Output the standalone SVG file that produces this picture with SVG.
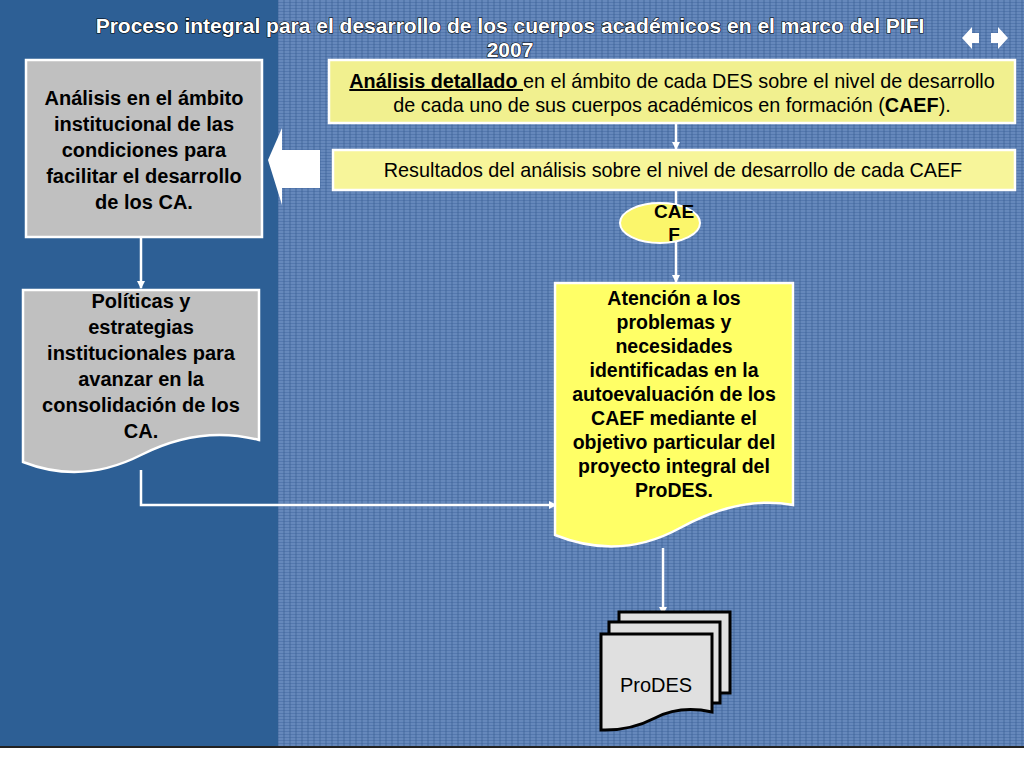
<svg xmlns="http://www.w3.org/2000/svg" width="1024" height="768" viewBox="0 0 1024 768">
<defs>
<pattern id="tex" width="6" height="6" patternUnits="userSpaceOnUse"><rect width="6" height="6" fill="#5478ae"/><path d="M0 1h6M0 4h6" stroke="#7fa0cf" stroke-width="0.8"/><path d="M2 0v6" stroke="#3a5d92" stroke-width="0.7"/></pattern>
<marker id="ah" markerWidth="8" markerHeight="8" refX="7" refY="4" orient="auto" markerUnits="userSpaceOnUse"><path d="M0 0L8 4L0 8z" fill="#fff"/></marker>
</defs>
<style>
.t{font-family:"Liberation Sans",Arial,sans-serif;fill:#000;text-anchor:middle}
.b{font-weight:bold}
.c{stroke:#fff;stroke-width:2.5;fill:none;marker-end:url(#ah)}
.title{font-family:"Liberation Sans",Arial,sans-serif;font-weight:bold;font-size:21px;fill:#fff;text-anchor:middle;stroke:#000;stroke-width:1.2;paint-order:stroke}
</style>
<rect width="1024" height="768" fill="#fff"/>
<rect x="0" y="0" width="1024" height="748" fill="url(#tex)"/>
<rect x="0" y="0" width="278" height="748" fill="#2d5f95"/>
<rect x="0" y="746" width="1024" height="2" fill="#222"/>
<text class="title" x="510" y="33">Proceso integral para el desarrollo de los cuerpos académicos en el marco del PIFI</text>
<text class="title" x="510" y="57">2007</text>
<g id="nav"><path d="M962 38l10-11v6h7v10h-7v6z" fill="#fff"/><path d="M1008 38l-10-11v6h-7v10h7v6z" fill="#fff"/></g>
<g id="bigarrow"><path d="M268 160L282 128V150H320V188H282V205Z" fill="#fff"/></g>
<g id="connectors">
<path class="c" d="M141 238V288"/>
<path class="c" d="M141 470V505H556"/>
<path class="c" d="M676 124V149"/>
<path class="c" d="M676 190V282"/>
<path class="c" d="M663 548V614"/>
</g>
<g id="n1"><rect x="26" y="60" width="236" height="177" fill="#c0c0c0" stroke="#fff" stroke-width="2.5"/>
<text class="t b" font-size="20"><tspan x="144" y="105">Análisis en el ámbito</tspan><tspan x="144" y="131">institucional de las</tspan><tspan x="144" y="157">condiciones para</tspan><tspan x="144" y="183">facilitar el desarrollo</tspan><tspan x="144" y="209">de los CA.</tspan></text></g>
<g id="n2"><path d="M23 290H259V440Q200 425 141 455T23 462Z" fill="#c0c0c0" stroke="#fff" stroke-width="2.5"/>
<text class="t b" font-size="20"><tspan x="141" y="308">Políticas y</tspan><tspan x="141" y="334">estrategias</tspan><tspan x="141" y="360">institucionales para</tspan><tspan x="141" y="386">avanzar en la</tspan><tspan x="141" y="412">consolidación de los</tspan><tspan x="141" y="438">CA.</tspan></text></g>
<g id="n3"><rect x="329" y="60" width="686" height="63" fill="#f1f08f" stroke="#fff" stroke-width="2.5"/>
<text class="t" font-size="19.8"><tspan x="672" y="88"><tspan class="b" text-decoration="underline">Análisis detallado </tspan>en el ámbito de cada DES sobre el nivel de desarrollo</tspan><tspan x="672" y="112">de cada uno de sus cuerpos académicos en formación (<tspan class="b">CAEF</tspan>).</tspan></text></g>
<g id="n4"><rect x="333" y="150" width="682" height="40" fill="#f7f59a" stroke="#fff" stroke-width="2.5"/>
<text class="t" font-size="19.8" x="673" y="177">Resultados del análisis sobre el nivel de desarrollo de cada CAEF</text></g>
<g id="n5"><ellipse cx="660" cy="223" rx="40" ry="20" fill="#fbf66b" stroke="#fff" stroke-width="2"/>
<text class="t b" font-size="19"><tspan x="674" y="218">CAE</tspan><tspan x="674" y="241">F</tspan></text></g>
<g id="n6"><path d="M555 283H793V505Q740 495 680 528T555 535Z" fill="#ffff66" stroke="#fff" stroke-width="2.5"/>
<text class="t b" font-size="19.5"><tspan x="674" y="305">Atención a los</tspan><tspan x="674" y="329">problemas y</tspan><tspan x="674" y="353">necesidades</tspan><tspan x="674" y="377">identificadas en la</tspan><tspan x="674" y="401">autoevaluación de los</tspan><tspan x="674" y="425">CAEF mediante el</tspan><tspan x="674" y="449">objetivo particular del</tspan><tspan x="674" y="473">proyecto integral del</tspan><tspan x="674" y="497">ProDES.</tspan></text></g>
<g id="n7" fill="#e0e0e0" stroke="#000" stroke-width="3">
<path d="M619 612H730V693H619Z"/>
<path d="M609 622H720V703H609Z"/>
<path d="M601 634H712V712Q680 705 655 718T601 730Z"/>
<text class="t" font-size="20" x="656" y="692" stroke="none" fill="#000">ProDES</text></g>
</svg>
